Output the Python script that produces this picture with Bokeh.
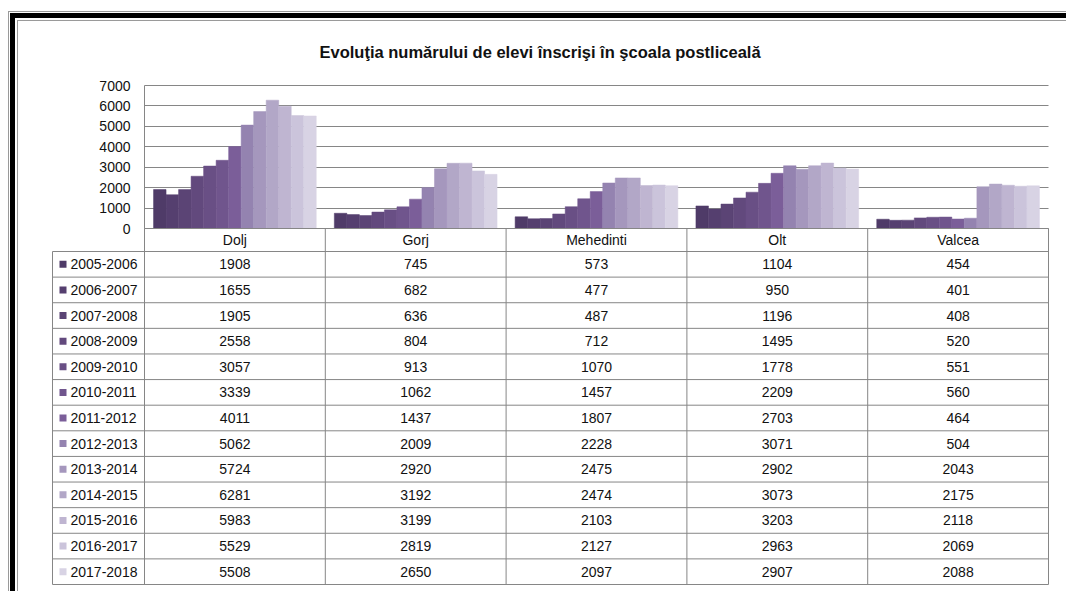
import numpy as np
from bokeh.plotting import figure
from bokeh.models import ColumnDataSource, Range1d, FixedTicker
from bokeh.core.properties import value
from bokeh.embed import file_html
from bokeh.resources import INLINE

# ---------------- data ----------------
title_text = "Evoluţia numărului de elevi înscrişi în şcoala postliceală"
counties = ["Dolj", "Gorj", "Mehedinti", "Olt", "Valcea"]
years = ["2005-2006", "2006-2007", "2007-2008", "2008-2009", "2009-2010",
         "2010-2011", "2011-2012", "2012-2013", "2013-2014", "2014-2015",
         "2015-2016", "2016-2017", "2017-2018"]
dolj = [1908, 1655, 1905, 2558, 3057, 3339, 4011, 5062, 5724, 6281, 5983, 5529, 5508]
gorj = [745, 682, 636, 804, 913, 1062, 1437, 2009, 2920, 3192, 3199, 2819, 2650]
mehedinti = [573, 477, 487, 712, 1070, 1457, 1807, 2228, 2475, 2474, 2103, 2127, 2097]
olt = [1104, 950, 1196, 1495, 1778, 2209, 2703, 3071, 2902, 3073, 3203, 2963, 2907]
valcea = [454, 401, 408, 520, 551, 560, 464, 504, 2043, 2175, 2118, 2069, 2088]
y_ticks = [0, 1000, 2000, 3000, 4000, 5000, 6000, 7000]

# ---------------- style ----------------
palette = ["#4f3b68", "#553f6f", "#5b4475", "#62497d", "#694f85", "#70558d",
           "#7b5e99", "#9483b0", "#a597bd", "#b2a7c7", "#bfb5d1", "#cbc4db",
           "#d8d3e4"]
GRID = "#868686"
FONT = "Liberation Sans"
TXT = "#111111"

W, H = 1066, 591
PX_LEFT = 50      # frame left (canvas px)
PX_LEG = 52       # legend column left border
PX_CAT0 = 144     # category 0 start
PX_CAT5 = 1048    # category 5 end
PX_RIGHT = 1052   # frame right
PX_TOP = 80       # frame top
PX_Y7000 = 85
PX_Y0 = 228
PX_BOTTOM = 591
HDR = 23          # header row height
TBL_BOTTOM = 356  # table bottom below axis (px)

ppx = (PX_CAT5 - PX_CAT0) / len(counties)
ppy = (PX_Y0 - PX_Y7000) / y_ticks[-1]
x_start = (PX_LEFT - PX_CAT0) / ppx
x_end = len(counties) + (PX_RIGHT - PX_CAT5) / ppx
y_start = -(PX_BOTTOM - PX_Y0) / ppy
y_end = y_ticks[-1] + (PX_Y7000 - PX_TOP) / ppy

p = figure(width=W, height=H, output_backend="svg", toolbar_location=None,
           x_range=Range1d(x_start, x_end), y_range=Range1d(y_start, y_end),
           x_axis_type=None, min_border_left=PX_LEFT, min_border_right=W - PX_RIGHT,
           min_border_top=PX_TOP, min_border_bottom=0, title=title_text)
p.extra_y_ranges = {"tbl": Range1d(-(PX_BOTTOM - PX_Y0), PX_Y0 - PX_TOP)}
p.outline_line_color = None
p.background_fill_color = "white"
p.border_fill_color = None

# double page frame (top and left edges), drawn behind the transparent border
p.styles = {"box-shadow": ("inset 8px 11px 0 0 #ffffff, inset 9px 12px 0 0 #9a9a9a, "
                           "inset 10px 13px 0 0 #ffffff, inset 15px 18px 0 0 #000000, "
                           "inset 17px 20px 0 0 #ffffff, inset 18px 21px 0 0 #9a9a9a"),
            "background-color": "#ffffff"}

p.title.text_font = FONT
p.title.text_font_size = "16.5px"
p.title.text_font_style = "bold"
p.title.text_color = TXT
p.title.align = "left"
p.title.offset = 319 - PX_LEFT
p.title.standoff = 40

# y axis fixed at category start
ax = p.yaxis[0]
ax.fixed_location = 0
ax.bounds = (y_ticks[0], y_ticks[-1])
ax.ticker = FixedTicker(ticks=y_ticks)
ax.major_tick_out = 0
ax.major_tick_in = 0
ax.minor_tick_line_color = None
ax.axis_line_color = GRID
ax.major_label_standoff = 14
ax.major_label_text_font = FONT
ax.major_label_text_font_size = "14px"
ax.major_label_text_color = TXT

p.xgrid.visible = False
g = p.ygrid[0]
g.ticker = FixedTicker(ticks=y_ticks)
g.grid_line_color = GRID
g.grid_line_width = 1
try:
    g.cross_bounds = (0, len(counties))
except Exception:
    pass

# ---------------- bars ----------------
series = [dolj, gorj, mehedinti, olt, valcea]
nser = len(years)
bw = 0.9 / nser
for j, yr in enumerate(years):
    xs = [i + 0.05 + (j + 0.5) * bw for i in range(len(counties))]
    tops = [series[i][j] for i in range(len(counties))]
    src = ColumnDataSource(dict(x=xs, top=tops))
    p.vbar(x="x", top="top", bottom=0, width=bw, source=src,
           fill_color=palette[j], line_color=palette[j], line_width=0.5)

# ---------------- data table ----------------
rh = (TBL_BOTTOM - HDR) / nser
x_leg = (PX_LEG - PX_CAT0) / ppx
nc = len(counties)

# horizontal lines
hx0, hx1, hy = [0], [nc], [0]
for k in range(nser + 1):
    hx0.append(x_leg); hx1.append(nc); hy.append(-(HDR + k * rh))
p.segment(x0=hx0, x1=hx1, y0=hy, y1=hy, y_range_name="tbl",
          line_color=GRID, line_width=1)
# vertical lines
vx = list(range(nc + 1)) + [x_leg]
vy0 = [0] * (nc + 1) + [-HDR]
vy1 = [-TBL_BOTTOM] * (nc + 2)
p.segment(x0=vx, x1=vx, y0=vy0, y1=vy1, y_range_name="tbl",
          line_color=GRID, line_width=1)

# header labels
p.text(x=[i + 0.5 for i in range(nc)], y=[-HDR / 2] * nc, text=counties,
       y_range_name="tbl", text_align="center", text_baseline="middle",
       text_font=value(FONT), text_font_size=value("14px"), text_color=TXT)

# values
tx, ty, tt = [], [], []
for j in range(nser):
    for i in range(nc):
        tx.append(i + 0.5)
        ty.append(-(HDR + (j + 0.5) * rh))
        tt.append(str(series[i][j]))
p.text(x=tx, y=ty, text=tt, y_range_name="tbl", text_align="center",
       text_baseline="middle", text_font=value(FONT),
       text_font_size=value("14px"), text_color=TXT)

# legend column
ly = [-(HDR + (j + 0.5) * rh) for j in range(nser)]
p.scatter(x=[(62.5 - PX_CAT0) / ppx] * nser, y=ly, marker="square", size=7,
          fill_color=palette, line_color=None, y_range_name="tbl")
p.text(x=[(70 - PX_CAT0) / ppx] * nser, y=ly, text=years, y_range_name="tbl",
       text_align="left", text_baseline="middle", text_font=value(FONT),
       text_font_size=value("14px"), text_color=TXT)

open("out.html", "w").write(file_html(p, INLINE))
